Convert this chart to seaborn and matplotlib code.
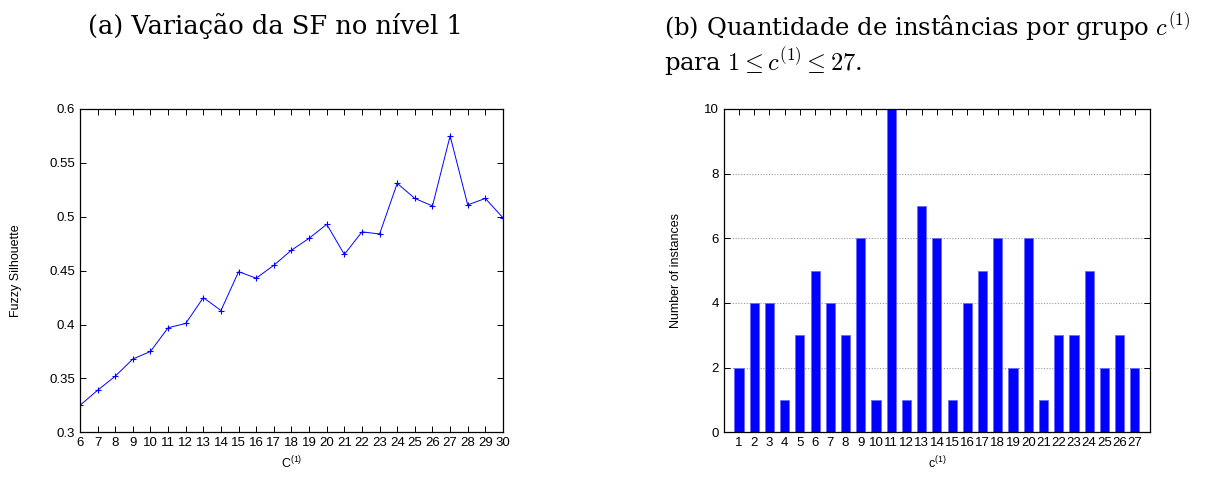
import numpy as np
import pandas as pd
import matplotlib
matplotlib.use("Agg")
import matplotlib.pyplot as plt
import seaborn as sns

# (a) Fuzzy Silhouette per number of clusters at level 1
n_clusters = list(range(6, 31))
fuzzy_sil = [0.325, 0.339, 0.352, 0.368, 0.375, 0.397, 0.401, 0.425, 0.413,
             0.449, 0.443, 0.455, 0.469, 0.480, 0.493, 0.465, 0.486, 0.484,
             0.531, 0.517, 0.510, 0.575, 0.511, 0.517, 0.499]

# (b) instances per group c(1)
groups = list(range(1, 28))
instances = [2, 4, 4, 1, 3, 5, 4, 3, 6, 1, 10, 1, 7, 6, 1, 4, 5, 6, 2, 6,
             1, 3, 3, 5, 2, 3, 2]

sns.set_style("ticks")
plt.rcParams["font.family"] = ["Liberation Sans", "DejaVu Sans"]
plt.rcParams["text.color"] = "black"
plt.rcParams["axes.labelcolor"] = "black"
plt.rcParams["mathtext.fontset"] = "custom"
plt.rcParams["mathtext.rm"] = "Liberation Sans"
plt.rcParams["mathtext.it"] = "Liberation Sans"

title_font = ["DejaVu Serif"]


def gnuplot_axes(ax):
    for s in ax.spines.values():
        s.set_visible(True)
        s.set_color("black")
        s.set_linewidth(0.9)
    ax.tick_params(direction="in", top=True, right=True, length=4,
                   labelsize=9.5, colors="black", width=0.7)


fig = plt.figure(figsize=(12.17, 4.79), dpi=100)
ax1 = fig.add_axes([0.0657, 0.0975, 0.3476, 0.675])
ax2 = fig.add_axes([0.5947, 0.0975, 0.3503, 0.675])

df_a = pd.DataFrame({"c": n_clusters, "fs": fuzzy_sil})
sns.lineplot(data=df_a, x="c", y="fs", ax=ax1, color="blue", linewidth=0.7,
             marker="+", markersize=5, markeredgewidth=0.8,
             markeredgecolor="blue")
ax1.set_xlim(6, 30)
ax1.set_ylim(0.3, 0.6)
ax1.set_xticks(n_clusters)
ax1.set_yticks([0.3, 0.35, 0.4, 0.45, 0.5, 0.55, 0.6])
ax1.set_yticklabels(["0.3", "0.35", "0.4", "0.45", "0.5", "0.55", "0.6"])
ax1.set_xlabel("C$^{(1)}$", fontsize=9)
ax1.set_ylabel("Fuzzy Silhouette", fontsize=9, labelpad=20)
gnuplot_axes(ax1)

df_b = pd.DataFrame({"g": groups, "n": instances})
sns.barplot(data=df_b, x="g", y="n", ax=ax2, color="blue", native_scale=True,
            width=0.6, edgecolor="#6a6aff", linewidth=0.6, saturation=1)
ax2.set_xlim(0, 28)
ax2.set_ylim(0, 10)
ax2.set_xticks(groups)
ax2.set_yticks([0, 2, 4, 6, 8, 10])
for y in [2, 4, 6, 8]:
    ax2.axhline(y, color="#999999", linestyle=(0, (1, 1.5)), linewidth=0.8,
                zorder=0)
ax2.set_xlabel("c$^{(1)}$", fontsize=9)
ax2.set_ylabel("Number of instances", fontsize=9, labelpad=16)
gnuplot_axes(ax2)

fig.text(0.072, 0.945, "(a) Variação da SF no nível 1", fontsize=18.5,
         family=title_font, va="center", ha="left")
fig.text(0.546, 0.945, "(b) Quantidade de instâncias por grupo $c^{(1)}$",
         fontsize=17.5, family=title_font, va="center", ha="left",
         math_fontfamily="cm")
fig.text(0.546, 0.872, "para $1 \\leq c^{(1)} \\leq 27$.",
         fontsize=17.5, family=title_font, va="center", ha="left",
         math_fontfamily="cm")

plt.savefig("out.png", dpi=100)
